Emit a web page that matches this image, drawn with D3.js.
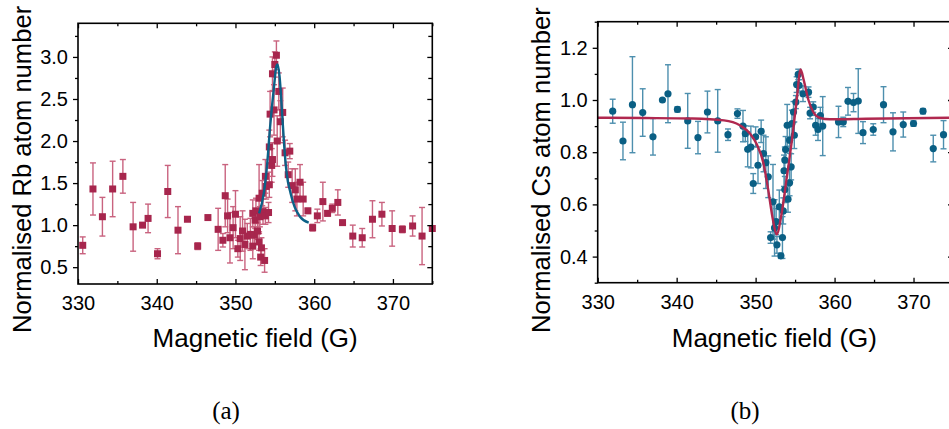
<!DOCTYPE html>
<html>
<head>
<meta charset="utf-8">
<script src="https://cdn.jsdelivr.net/npm/d3@7"></script>
<style>
  html, body { margin: 0; padding: 0; background: #fff; overflow: hidden; }
  svg { display: block; }
  text { fill: #000; }
</style>
</head>
<body>
<svg id="chart" width="949" height="429"></svg>
<script>
// ---------------- DATA ----------------
const rbField = [330.6,331.9,333.1,334.4,335.7,337.0,338.2,338.9,340.1,341.4,342.7,343.9,345.2,346.5,347.8,348.4,348.7,349.0,349.3,349.7,350.0,350.3,350.6,350.9,351.2,351.5,351.9,352.2,352.2,352.4,352.5,352.6,352.8,353.0,353.0,353.1,353.2,353.3,353.4,353.5,353.7,353.8,353.8,353.9,354.2,354.3,354.3,354.4,354.6,354.7,354.7,354.9,355.0,355.2,355.3,355.5,355.7,356.0,356.3,356.9,356.7,357.2,357.6,357.8,358.2,358.6,359.2,359.8,360.4,361.1,361.7,362.3,363.0,363.6,364.9,366.1,367.4,368.6,369.9,371.2,372.5,373.7,375.0];
const rbValue = [0.76,1.43,1.10,1.43,1.58,0.98,1.00,1.08,0.66,1.40,0.94,1.07,0.75,1.09,0.95,0.82,1.35,1.11,0.85,0.97,1.13,0.72,0.84,0.93,0.77,0.87,0.89,0.75,1.14,0.88,1.06,1.17,0.93,1.32,0.80,1.10,0.62,0.73,1.38,1.16,0.58,1.58,1.11,1.46,1.15,1.48,1.93,2.32,1.71,1.78,2.80,2.37,2.91,3.02,2.00,2.59,2.23,2.34,1.86,1.88,1.60,1.47,1.42,1.31,1.51,1.31,1.17,0.97,1.11,1.28,1.14,1.20,1.27,1.03,0.87,0.85,1.07,1.13,0.96,0.95,0.99,0.87,0.96];
const rbError = [0.10,0.31,0.23,0.33,0.20,0.29,0.00,0.17,0.06,0.31,0.28,0.02,0.04,0.02,0.25,0.08,0.37,0.20,0.30,0.25,0.28,0.10,0.26,0.24,0.30,0.15,0.19,0.15,0.16,0.10,0.10,0.15,0.10,0.40,0.10,0.12,0.10,0.12,0.15,0.15,0.14,0.20,0.10,0.15,0.12,0.15,0.20,0.27,0.20,0.20,0.20,0.30,0.15,0.17,0.30,0.22,0.25,0.29,0.15,0.09,0.15,0.20,0.25,0.20,0.21,0.20,0.03,0.04,0.08,0.23,0.03,0.05,0.15,0.02,0.13,0.11,0.22,0.14,0.21,0.04,0.12,0.34,0.00];

const rbFitField = [353.0,353.6,354.0,354.4,354.9,355.2,355.35,355.6,355.9,356.2,356.5,357.0,357.5,358.2,359.3];
const rbFitValue = [1.14,1.38,1.70,2.17,2.65,2.89,2.91,2.77,2.37,1.93,1.62,1.38,1.22,1.10,1.03];

const csField = [331.9,333.2,334.4,335.7,337.0,338.2,338.9,340.1,341.4,342.7,343.9,345.2,346.5,347.7,348.4,348.7,349.0,349.4,349.7,350.0,350.3,350.7,351.0,351.3,351.6,351.9,352.2,352.4,352.6,352.7,353.0,353.2,353.4,353.5,353.6,353.7,353.7,353.8,354.0,354.1,354.3,354.3,354.5,354.6,354.8,354.9,355.1,355.2,355.4,355.5,356.0,356.7,356.9,357.3,357.6,357.9,358.2,358.5,360.5,361.1,361.7,362.4,363.0,363.6,364.9,366.2,367.4,368.7,370.0,371.2,372.5,373.8];
const csValue = [0.957,0.843,0.982,0.952,0.859,1.000,1.024,0.964,0.920,0.856,0.954,0.920,0.867,0.948,0.900,0.871,0.811,0.820,0.680,0.859,0.750,0.880,0.795,0.760,0.706,0.473,0.610,0.510,0.534,0.445,0.591,0.403,0.473,0.575,0.729,0.657,0.770,0.810,0.903,0.620,0.846,0.683,0.744,0.910,0.954,0.865,0.992,1.059,1.098,1.056,1.024,1.030,0.950,0.973,0.903,0.887,0.940,0.900,0.916,0.916,0.995,0.990,0.996,0.875,0.887,0.982,0.878,0.906,0.910,0.957,0.814,0.867];
const csError = [0.046,0.072,0.184,0.091,0.070,0.000,0.111,0.010,0.105,0.062,0.080,0.120,0.022,0.018,0.060,0.030,0.067,0.080,0.038,0.038,0.070,0.043,0.070,0.099,0.080,0.022,0.143,0.108,0.050,0.032,0.064,0.010,0.080,0.050,0.060,0.050,0.050,0.050,0.080,0.050,0.050,0.050,0.050,0.051,0.040,0.051,0.025,0.030,0.020,0.022,0.030,0.020,0.022,0.020,0.038,0.042,0.032,0.113,0.060,0.018,0.053,0.035,0.124,0.042,0.022,0.069,0.073,0.048,0.010,0.010,0.051,0.054];

const csFitField = [330,336,342,346,348.0,349.3,350.1,351.0,351.6,352.2,352.66,353.3,353.9,354.6,355.2,355.7,356.1,356.7,357.3,358.1,359.4,364,375];
const csFitValue = [0.932,0.931,0.929,0.922,0.903,0.871,0.833,0.757,0.655,0.540,0.485,0.566,0.693,0.846,0.999,1.117,1.075,0.999,0.954,0.932,0.926,0.928,0.932];

const xTicks = [330,340,350,360,370];
const xMinorTicks = [335,345,355,365,375];
const rbYTicks = [0.5,1.0,1.5,2.0,2.5,3.0];
const rbYMinorTicks = [0.75,1.25,1.75,2.25,2.75,3.25];
const csYTicks = [0.4,0.6,0.8,1.0,1.2];
const csYMinorTicks = [0.3,0.5,0.7,0.9,1.1,1.3];

// ---------------- DRAW ----------------
const SANS = "'Liberation Sans', Arial, sans-serif";
const SERIF = "'Liberation Serif', 'DejaVu Serif', serif";
const svg = d3.select("#chart");

function panel(cfg) {
  const x = d3.scaleLinear().domain([330,375]).range([cfg.left, cfg.right]);
  const y = d3.scaleLinear().domain(cfg.yDomain).range([cfg.bottom, cfg.top]);
  const g = svg.append("g");

  const pts = cfg.field.map((f,i)=>({x:f, v:cfg.value[i], e:cfg.error[i]}));

  // error bars
  const eb = g.append("g").attr("stroke", cfg.errColor).attr("stroke-width", 1.4).attr("fill","none");
  pts.filter(p=>p.e>0).forEach(p=>{
    const px = x(p.x), y1 = y(p.v+p.e), y2 = y(p.v-p.e);
    eb.append("line").attr("x1",px).attr("x2",px).attr("y1",y1).attr("y2",y2);
    eb.append("line").attr("x1",px-3).attr("x2",px+3).attr("y1",y1).attr("y2",y1);
    eb.append("line").attr("x1",px-3).attr("x2",px+3).attr("y1",y2).attr("y2",y2);
  });

  // markers
  const mk = g.append("g").attr("fill", cfg.markColor);
  if (cfg.shape === "square") {
    mk.selectAll("rect").data(pts).join("rect")
      .attr("x", d=>x(d.x)-3.5).attr("y", d=>y(d.v)-3.5)
      .attr("width",7).attr("height",7);
  } else {
    mk.selectAll("circle").data(pts).join("circle")
      .attr("cx", d=>x(d.x)).attr("cy", d=>y(d.v)).attr("r",3.6);
  }

  // fit line
  const fit = cfg.fitField.map((f,i)=>[f, cfg.fitValue[i]]);
  g.append("path").datum(fit)
    .attr("fill","none").attr("stroke", cfg.fitColor).attr("stroke-width",2.4)
    .attr("d", d3.line().x(d=>x(d[0])).y(d=>y(d[1])).curve(d3.curveMonotoneX));

  // axes
  const fmt = d3.format(".1f");
  const ax = g.append("g");
  ax.append("g").attr("transform",`translate(0,${cfg.bottom})`)
    .call(d3.axisBottom(x).tickValues(xTicks).tickSize(-5).tickPadding(12).tickFormat(d3.format("d")));
  ax.append("g").attr("transform",`translate(0,${cfg.bottom})`)
    .call(d3.axisBottom(x).tickValues(xMinorTicks).tickSize(-3).tickFormat(""));
  ax.append("g").attr("transform",`translate(0,${cfg.top})`)
    .call(d3.axisTop(x).tickValues(xTicks).tickSize(-5).tickFormat(""));
  ax.append("g").attr("transform",`translate(0,${cfg.top})`)
    .call(d3.axisTop(x).tickValues(xMinorTicks).tickSize(-3).tickFormat(""));
  ax.append("g").attr("transform",`translate(${cfg.left},0)`)
    .call(d3.axisLeft(y).tickValues(cfg.yTicks).tickSize(5).tickPadding(5).tickFormat(fmt));
  ax.append("g").attr("transform",`translate(${cfg.left},0)`)
    .call(d3.axisLeft(y).tickValues(cfg.yMinor).tickSize(3).tickFormat(""));
  ax.append("g").attr("transform",`translate(${cfg.right},0)`)
    .call(d3.axisRight(y).tickValues(cfg.yTicks).tickSize(-5).tickFormat(""));
  ax.append("g").attr("transform",`translate(${cfg.right},0)`)
    .call(d3.axisRight(y).tickValues(cfg.yMinor).tickSize(-4).tickFormat(""));
  ax.selectAll(".tick line").attr("stroke","#000").attr("stroke-width",1.3);
  ax.selectAll(".tick text").attr("font-size",20).style("font-family", SANS).attr("fill","#000");
  ax.selectAll(".domain").remove();
  // frame
  g.append("rect").attr("x",cfg.left).attr("y",cfg.top)
    .attr("width",cfg.right-cfg.left).attr("height",cfg.bottom-cfg.top)
    .attr("fill","none").attr("stroke","#000").attr("stroke-width",1.6);

  // titles
  svg.append("text").attr("x",(cfg.left+cfg.right)/2 + cfg.xTitleShift).attr("y",347)
    .attr("text-anchor","middle").attr("font-size",26).style("font-family", SANS).text("Magnetic field (G)");
  svg.append("text").attr("transform",`translate(${cfg.yTitleX},333) rotate(-90)`)
    .attr("text-anchor","start").attr("font-size",25.6).style("font-family", SANS).text(cfg.yTitle);
  svg.append("text").attr("x",cfg.labelX).attr("y",419)
    .attr("text-anchor","middle").attr("font-size",25).style("font-family", SERIF).text(cfg.label);
}

panel({
  left:78, right:432.3, top:23.3, bottom:284, yDomain:[0.3,3.4],
  field:rbField, value:rbValue, error:rbError,
  fitField:rbFitField, fitValue:rbFitValue,
  yTicks:rbYTicks, yMinor:rbYMinorTicks,
  shape:"square", markColor:"#a7264d", errColor:"#c9637f", fitColor:"#0c6187",
  yTitle:"Normalised Rb atom number", yTitleX:31, xTitleShift:0, labelX:226, label:"(a)"
});

panel({
  left:597.7, right:953, top:21.7, bottom:282.7, yDomain:[0.3,1.3],
  field:csField, value:csValue, error:csError,
  fitField:csFitField, fitValue:csFitValue,
  yTicks:csYTicks, yMinor:csYMinorTicks,
  shape:"circle", markColor:"#0a5f84", errColor:"#4d8fae", fitColor:"#b0284f",
  yTitle:"Normalised Cs atom number", yTitleX:550, xTitleShift:-1, labelX:745, label:"(b)"
});
</script>
</body>
</html>
